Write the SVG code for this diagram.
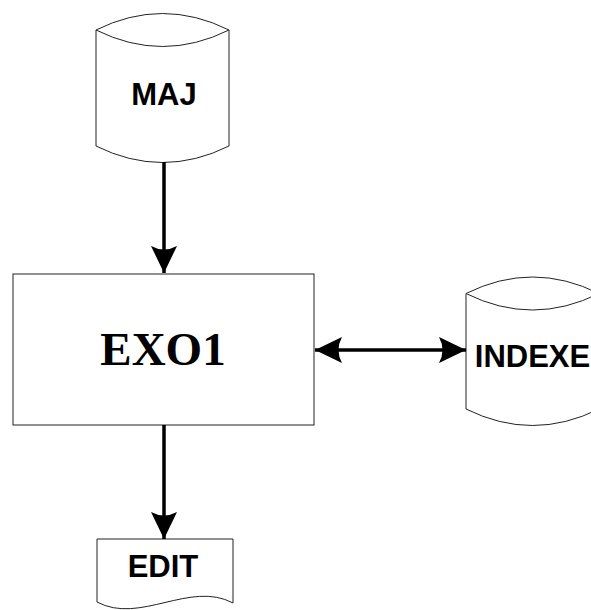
<svg xmlns="http://www.w3.org/2000/svg" width="591" height="610" viewBox="0 0 591 610">
<defs>
<style>
.shape{fill:#fff;stroke:#222;stroke-width:1}
.lbl{font-family:"Liberation Sans",Arial,sans-serif;font-weight:bold;font-size:31px;text-anchor:middle;fill:#000}
.big{font-family:"Liberation Serif","Times New Roman",serif;font-weight:bold;font-size:47px;text-anchor:middle;fill:#000}
.conn{stroke:#000;stroke-width:3.5;fill:none}
</style>
<marker id="ah" markerUnits="userSpaceOnUse" markerWidth="30" markerHeight="30" viewBox="-28 -15 30 30" refX="0" refY="0" orient="auto-start-reverse">
<path d="M0,0 L-27,-13 Q-20,0 -27,13 Z" fill="#000"/>
</marker>
</defs>
<rect width="591" height="610" fill="#fff"/>
<g id="maj">
<path class="shape" d="M96,30 Q162.5,-3 229,30 V146 Q162.5,179 96,146 Z"/>
<path class="shape" fill="none" d="M96,30 Q162.5,63 229,30"/>
<text class="lbl" x="164" y="105">MAJ</text>
</g>
<g id="exo1">
<rect class="shape" x="13" y="274" width="301" height="151"/>
<text class="big" x="163" y="365">EXO1</text>
</g>
<g id="indexe">
<path class="shape" d="M466,293.5 Q532.5,260.5 599,293.5 V409 Q532.5,442 466,409 Z"/>
<path class="shape" fill="none" d="M466,293.5 Q532.5,326.5 599,293.5"/>
<text class="lbl" x="532.5" y="367">INDEXE</text>
</g>
<g id="edit">
<path class="shape" d="M97,539 H233 V603 C190,580 140,625 97,602 Z"/>
<text class="lbl" x="163" y="577">EDIT</text>
</g>
<g id="connectors">
<line class="conn" x1="164" y1="162" x2="164" y2="273" marker-end="url(#ah)"/>
<line class="conn" x1="315" y1="350" x2="466" y2="350" marker-start="url(#ah)" marker-end="url(#ah)"/>
<line class="conn" x1="164" y1="425" x2="164" y2="539" marker-end="url(#ah)"/>
</g>
</svg>
